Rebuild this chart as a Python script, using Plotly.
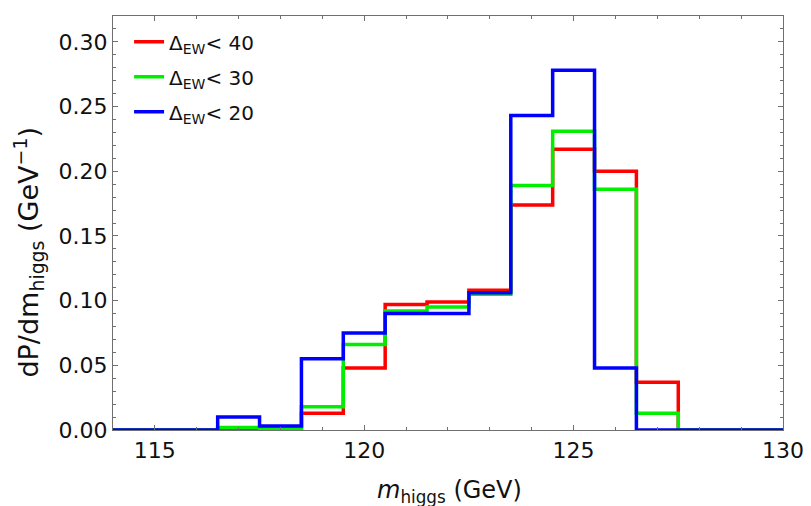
import plotly.graph_objects as go

# bin centres (GeV), bin width 1
centers = [114, 115, 116, 117, 118, 119, 120, 121, 122, 123, 124, 125, 126, 127, 128, 129, 130]
dew40 = [0, 0, 0, 0.001, 0.001, 0.013, 0.048, 0.097, 0.099, 0.108, 0.174, 0.217, 0.200, 0.037, 0, 0, 0]
dew30 = [0, 0, 0, 0.002, 0.001, 0.018, 0.066, 0.092, 0.095, 0.105, 0.189, 0.231, 0.186, 0.013, 0, 0, 0]
dew20 = [0, 0, 0, 0.010, 0.003, 0.055, 0.075, 0.090, 0.090, 0.106, 0.243, 0.278, 0.048, 0, 0, 0, 0]
names = ["Δ<sub>EW</sub>< 40", "Δ<sub>EW</sub>< 30", "Δ<sub>EW</sub>< 20"]
colors = ["#ff0000", "#00ee00", "#0000ff"]
xticks = [115, 120, 125, 130]
yticks = [0, 0.05, 0.10, 0.15, 0.20, 0.25, 0.30]

FONT = "DejaVu Sans"
TXT = "#111111"
GRAY = "#707070"

fig = go.Figure()
for i, (vals, name, col) in enumerate(zip([dew40, dew30, dew20], names, colors)):
    xs = [c - 0.5 for c in centers] + [centers[-1] + 0.5]
    ys = list(vals) + [vals[-1]]
    fig.add_trace(go.Scatter(x=xs, y=ys, mode="lines", line_shape="hv",
                             line=dict(color=col, width=3.5), name=name, legendgroup=f"g{i}"))

axis_common = dict(showgrid=False, zeroline=False, showline=True, linecolor=GRAY,
                   linewidth=1.2, mirror="allticks", ticks="inside", tickcolor=GRAY,
                   ticklen=5, tickwidth=1, tickfont=dict(size=22, color=TXT, family=FONT))
fig.update_xaxes(range=[114, 130.001], tickvals=xticks,
                 minor=dict(ticks="inside", dtick=1, ticklen=3, tickcolor=GRAY),
                 **axis_common)
fig.update_yaxes(range=[0, 0.32], tickvals=yticks, tickformat=".2f",
                 minor=dict(ticks="inside", dtick=0.01, ticklen=3, tickcolor=GRAY),
                 **axis_common)

fig.add_annotation(text="<i>m</i><sub>higgs</sub> (GeV)", xref="paper", yref="paper",
                   x=0.502, y=-0.148, xanchor="center", yanchor="middle", showarrow=False,
                   font=dict(size=24, color=TXT, family=FONT))
fig.add_annotation(text="dP/dm<sub>higgs</sub> (GeV<sup>−1</sup>)", xref="paper", yref="paper",
                   x=-0.126, y=0.43, xanchor="center", yanchor="middle", showarrow=False,
                   textangle=-90, font=dict(size=27, color=TXT, family=FONT))

fig.update_layout(width=803, height=498, margin=dict(l=105, r=23, t=7, b=76),
                  plot_bgcolor="white", paper_bgcolor="white",
                  legend=dict(x=0.024, y=0.985, xanchor="left", yanchor="top", bgcolor="rgba(0,0,0,0)",
                              tracegroupgap=6, itemwidth=30,
                              font=dict(size=20, color=TXT, family=FONT)),
                  showlegend=True)
fig.write_html("out.html")
